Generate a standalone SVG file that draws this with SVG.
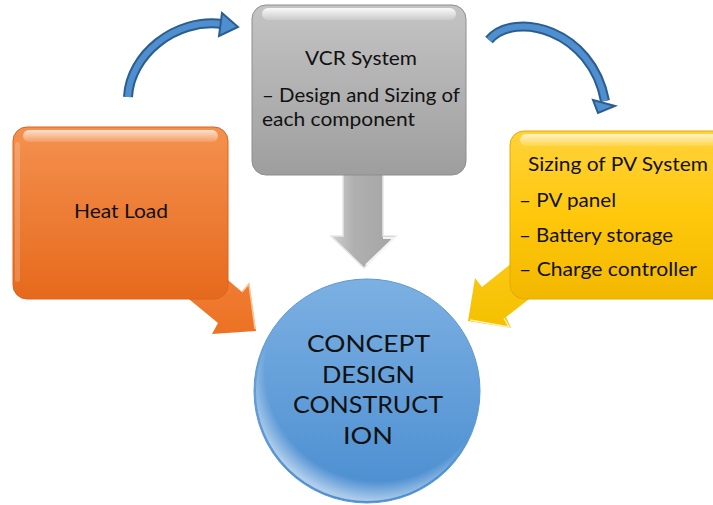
<svg xmlns="http://www.w3.org/2000/svg" width="713" height="505" viewBox="0 0 713 505">
  <defs>
    <linearGradient id="gGray" x1="0" y1="0" x2="0" y2="1">
      <stop offset="0" stop-color="#c4c4c4"/>
      <stop offset="1" stop-color="#9e9e9e"/>
    </linearGradient>
    <linearGradient id="gOrange" x1="0" y1="0" x2="0" y2="1">
      <stop offset="0" stop-color="#f4914f"/>
      <stop offset="1" stop-color="#e6691c"/>
    </linearGradient>
    <linearGradient id="gYellow" x1="0" y1="0" x2="0" y2="1">
      <stop offset="0" stop-color="#ffd23a"/>
      <stop offset="0.5" stop-color="#ffc80c"/>
      <stop offset="1" stop-color="#f2b800"/>
    </linearGradient>
    <linearGradient id="gBlue" x1="0" y1="0" x2="0" y2="1">
      <stop offset="0" stop-color="#7cb0e2"/>
      <stop offset="1" stop-color="#4a8dd0"/>
    </linearGradient>
    <linearGradient id="gShine" x1="0" y1="0" x2="0" y2="1">
      <stop offset="0" stop-color="#ffffff" stop-opacity="0.9"/>
      <stop offset="1" stop-color="#ffffff" stop-opacity="0.15"/>
    </linearGradient>
    <linearGradient id="gArrowGray" x1="0" y1="0" x2="1" y2="0">
      <stop offset="0" stop-color="#d0d0d0"/>
      <stop offset="0.35" stop-color="#b0b0b0"/>
      <stop offset="1" stop-color="#a4a4a4"/>
    </linearGradient>
    <linearGradient id="gArrowOrange" x1="0" y1="0" x2="0" y2="1">
      <stop offset="0" stop-color="#f2843c"/>
      <stop offset="1" stop-color="#ec7224"/>
    </linearGradient>
    <linearGradient id="gArrowYellow" x1="0" y1="0" x2="0" y2="1">
      <stop offset="0" stop-color="#ffcc1a"/>
      <stop offset="1" stop-color="#f4c000"/>
    </linearGradient>
    <radialGradient id="gRim" cx="0.55" cy="0.4" r="0.6">
      <stop offset="0.85" stop-color="#ffffff" stop-opacity="0"/>
      <stop offset="1" stop-color="#ffffff" stop-opacity="0.55"/>
    </radialGradient>
  </defs>
  <style>
    .lbl { font-family: "Lato", "Open Sans", "DejaVu Sans", sans-serif; fill: #111; }
    .bend-out { fill: none; stroke: #2b5e8f; stroke-width: 10; stroke-linecap: butt; }
    .bend-in { fill: none; stroke: #4f8fd0; stroke-width: 6; stroke-linecap: butt; }
    .bend-head { fill: #4f8fd0; stroke: #2b5e8f; stroke-width: 2; stroke-linejoin: miter; }
    .shine { fill: url(#gShine); }
  </style>

  <!-- connectors -->
  <g id="connectors">
    <!-- curved arrow: Heat Load to VCR System -->
    <path class="bend-out" d="M128,97 C130,55 175,18 222,24"/>
    <path class="bend-in" d="M128,97 C130,55 175,18 222,24"/>
    <polygon class="bend-head" points="222,13 238,27 219,36"/>
    <!-- curved arrow: VCR System to PV System -->
    <path class="bend-out" d="M489,40 C515,10 592,30 605,101"/>
    <path class="bend-in" d="M489,40 C515,10 592,30 605,101"/>
    <polygon class="bend-head" points="593,100 615,106 598,113"/>

    <!-- block arrow: VCR System down to concept -->
    <polygon fill="url(#gArrowGray)" stroke="#e6e6e6" stroke-width="1.5" points="343,170 383,170 383,236 396,236 364,268 331,236 343,236"/>
    <polyline fill="none" stroke="#f4f4f4" stroke-width="2" points="383,238 394,238 366,265"/>
    <!-- block arrow: Heat Load to concept -->
    <polygon fill="url(#gArrowOrange)" points="181,240 242,292 249,283 256,331 212,334 218,323 156,272"/>
    <polyline fill="none" stroke="#fbc59a" stroke-width="1.5" points="242,292 249,284 255,329"/>
    <!-- block arrow: PV System to concept -->
    <polygon fill="url(#gArrowYellow)" points="544,237 482,287 475,278 468,321 511,328 506,317 569,268"/>
    <polyline fill="none" stroke="#fff2b0" stroke-width="1.5" points="470,320 509,327 504,318"/>
  </g>

  <!-- VCR System -->
  <g id="node-vcr">
    <rect x="252" y="5" width="214" height="170" rx="14" fill="url(#gGray)" stroke="#8e8e8e" stroke-width="1"/>
    <rect x="262" y="8" width="194" height="12" rx="6" class="shine"/>
    <text class="lbl" x="305" y="65" font-size="19" textLength="112" lengthAdjust="spacingAndGlyphs">VCR System</text>
    <text class="lbl" x="262" y="102" font-size="19" textLength="198" lengthAdjust="spacingAndGlyphs">– Design and Sizing of</text>
    <text class="lbl" x="262" y="126" font-size="19" textLength="153" lengthAdjust="spacingAndGlyphs">each component</text>
  </g>

  <!-- Heat Load -->
  <g id="node-heat">
    <rect x="13" y="127" width="215" height="172" rx="14" fill="url(#gOrange)" stroke="#d9641f" stroke-width="1"/>
    <rect x="23" y="130" width="195" height="12" rx="6" class="shine" opacity="0.8"/>
    <rect x="15" y="142" width="5" height="140" rx="2.5" fill="#ffffff" opacity="0.18"/>
    <text class="lbl" x="74" y="218" font-size="20" textLength="94" lengthAdjust="spacingAndGlyphs">Heat Load</text>
  </g>

  <!-- Sizing of PV System -->
  <g id="node-pv">
    <rect x="510" y="131" width="218" height="168" rx="14" fill="url(#gYellow)" stroke="#e2ab00" stroke-width="1"/>
    <rect x="520" y="134" width="200" height="12" rx="6" class="shine" opacity="0.8"/>
    <text class="lbl" x="528" y="171" font-size="20" textLength="180" lengthAdjust="spacingAndGlyphs">Sizing of PV System</text>
    <text class="lbl" x="519" y="207" font-size="20" textLength="97" lengthAdjust="spacingAndGlyphs">– PV panel</text>
    <text class="lbl" x="519" y="242" font-size="20" textLength="154" lengthAdjust="spacingAndGlyphs">– Battery storage</text>
    <text class="lbl" x="519" y="276" font-size="20" textLength="178" lengthAdjust="spacingAndGlyphs">– Charge controller</text>
  </g>

  <!-- Concept / Design / Construction -->
  <g id="node-concept">
    <ellipse cx="367" cy="391" rx="113" ry="112" fill="url(#gBlue)" stroke="#5d98d2" stroke-width="1"/>
    <ellipse cx="367" cy="391" rx="111" ry="110" fill="url(#gRim)"/>
    <text class="lbl" x="307" y="352" font-size="24" textLength="123" lengthAdjust="spacingAndGlyphs">CONCEPT</text>
    <text class="lbl" x="322" y="383" font-size="24" textLength="93" lengthAdjust="spacingAndGlyphs">DESIGN</text>
    <text class="lbl" x="293" y="413" font-size="24" textLength="150" lengthAdjust="spacingAndGlyphs">CONSTRUCT</text>
    <text class="lbl" x="343" y="444" font-size="24" textLength="50" lengthAdjust="spacingAndGlyphs">ION</text>
  </g>
</svg>
